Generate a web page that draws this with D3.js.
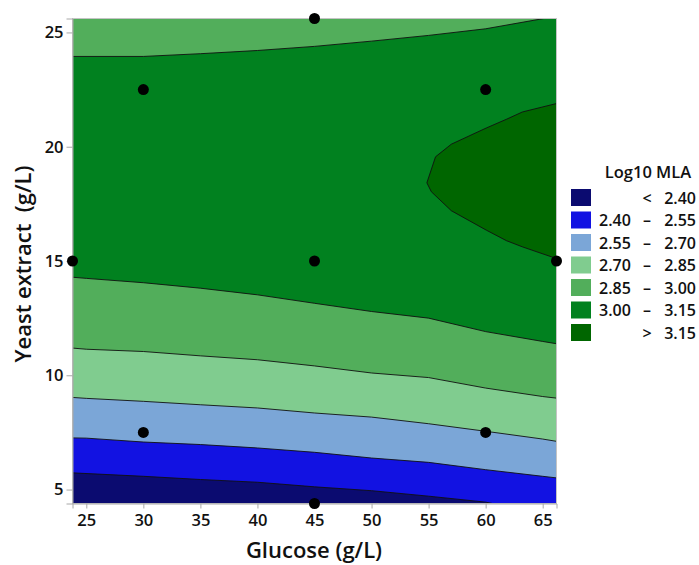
<!DOCTYPE html>
<html>
<head>
<meta charset="utf-8">
<script src="https://cdn.jsdelivr.net/npm/d3@7"></script>
<style>
  html, body { margin: 0; padding: 0; background: #ffffff; }
  svg text { font-family: "Open Sans", "Noto Sans", sans-serif; fill: #111111; }
</style>
</head>
<body>
<svg id="chart" width="699" height="565"></svg>
<script>
// Contour plot of Log10 MLA over Glucose (g/L) and Yeast extract (g/L)

const glucoseDomain = [23.79, 66.21];
const yeastDomain = [4.39, 25.61];
const glucoseTicks = [25, 30, 35, 40, 45, 50, 55, 60, 65];
const yeastTicks = [5, 10, 15, 20, 25];

// Legend bands
const bandLabels = [
  ["", "<", "2.40"],
  ["2.40", "–", "2.55"],
  ["2.55", "–", "2.70"],
  ["2.70", "–", "2.85"],
  ["2.85", "–", "3.00"],
  ["3.00", "–", "3.15"],
  ["", ">", "3.15"]
];
const bandColors = ["#0b0b70", "#1212e2", "#7ba6d7", "#80cc8f", "#52ae5b", "#01811f", "#006600"];

// Contour lines as [glucose, yeast extract] pairs
const line240 = [[23.79, 5.73], [30, 5.58], [35, 5.44], [40, 5.32], [45, 5.12], [50, 4.95], [55, 4.71], [60, 4.45], [60.6, 4.39]];
const line255 = [[23.79, 7.26], [25, 7.25], [30, 7.08], [35, 6.97], [40, 6.82], [45, 6.63], [50, 6.38], [55, 6.19], [60, 5.87], [65, 5.58], [66.21, 5.51]];
const line270 = [[23.79, 9.03], [25, 8.99], [30, 8.86], [35, 8.71], [40, 8.57], [45, 8.35], [50, 8.17], [55, 7.88], [60, 7.55], [65, 7.21], [66.21, 7.11]];
const line285 = [[23.79, 11.19], [25, 11.14], [30, 11.04], [35, 10.85], [40, 10.68], [45, 10.41], [50, 10.10], [55, 9.90], [60, 9.44], [65, 9.07], [66.21, 9.00]];
const line300low = [[23.79, 14.29], [25, 14.24], [30, 14.05], [35, 13.81], [40, 13.52], [45, 13.15], [50, 12.79], [55, 12.50], [60, 11.91], [65, 11.48], [66.21, 11.38]];
const line300high = [[23.79, 23.95], [30, 23.95], [35, 24.07], [40, 24.21], [45, 24.39], [50, 24.62], [55, 24.87], [60, 25.16], [65.1, 25.61], [66.21, 25.61]];
const line315 = [[66.21, 21.89], [63.22, 21.52], [61.82, 21.20], [60.06, 20.82], [56.99, 20.11], [55.61, 19.56], [54.85, 18.42], [55.24, 18.03], [56.99, 17.20], [60.06, 16.35], [61.82, 15.89], [63.22, 15.62], [65.90, 15.16], [66.21, 15.10]];

// Design points
const glucosePts = [30, 45, 60, 23.79, 45, 66.21, 30, 60, 45];
const yeastPts = [22.5, 25.61, 22.5, 15, 15, 15, 7.5, 7.5, 4.39];

const svg = d3.select("#chart");
const plotLeft = 72.5, plotRight = 556.5, plotTop = 18.5, plotBottom = 503.5;

const x = d3.scaleLinear().domain(glucoseDomain).range([plotLeft, plotRight]);
const y = d3.scaleLinear().domain(yeastDomain).range([plotBottom, plotTop]);

svg.append("defs").append("clipPath").attr("id", "plotClip")
  .append("rect").attr("x", plotLeft).attr("y", plotTop)
  .attr("width", plotRight - plotLeft).attr("height", plotBottom - plotTop);

const plot = svg.append("g").attr("clip-path", "url(#plotClip)");

// base band 3.00 – 3.15
plot.append("rect").attr("x", plotLeft).attr("y", plotTop)
  .attr("width", plotRight - plotLeft).attr("height", plotBottom - plotTop)
  .attr("fill", bandColors[5]);

const areaBelow = d3.area().x(d => x(d[0])).y0(y(yeastDomain[0])).y1(d => y(d[1]));
const areaAbove = d3.area().x(d => x(d[0])).y0(y(yeastDomain[1])).y1(d => y(d[1]));
const path = d3.line().x(d => x(d[0])).y(d => y(d[1]));

// top band 2.85 – 3.00
plot.append("path").datum(line300high).attr("d", areaAbove).attr("fill", bandColors[4]);

// stacked bands from the bottom up
const lowerBands = [
  [line300low, bandColors[4]],
  [line285, bandColors[3]],
  [line270, bandColors[2]],
  [line255, bandColors[1]],
  [line240, bandColors[0]]
];
lowerBands.forEach(([pts, c]) => {
  plot.append("path").datum(pts).attr("d", areaBelow).attr("fill", c);
});

// high region > 3.15
plot.append("path").datum(line315).attr("d", d => path(d) + "Z").attr("fill", bandColors[6]);

// contour strokes
[line240, line255, line270, line285, line300low, line300high.slice(0, 9), line315].forEach(pts => {
  plot.append("path").datum(pts).attr("d", path)
    .attr("fill", "none").attr("stroke", "#111").attr("stroke-width", 0.9);
});

// frame
svg.append("rect").attr("x", plotLeft).attr("y", plotTop)
  .attr("width", plotRight - plotLeft).attr("height", plotBottom - plotTop)
  .attr("fill", "none").attr("stroke", "#c4c4c4").attr("stroke-width", 1);

// axes
const xAxis = svg.append("g").attr("transform", `translate(0,${plotBottom})`)
  .call(d3.axisBottom(x).tickValues(glucoseTicks).tickSize(5).tickPadding(6).tickFormat(d3.format("d")));
const yAxis = svg.append("g").attr("transform", `translate(${plotLeft},0)`)
  .call(d3.axisLeft(y).tickValues(yeastTicks).tickSize(6).tickPadding(3).tickFormat(d3.format("d")));
[xAxis, yAxis].forEach(g => {
  g.select(".domain").attr("stroke", "#a8a8a8");
  g.selectAll(".tick line").attr("stroke", "#a8a8a8");
  g.selectAll(".tick text").attr("font-size", 16.5).attr("font-weight", 600)
    .attr("font-family", "Open Sans, sans-serif").attr("fill", "#111");
});

// axis titles
svg.append("text").attr("x", 314).attr("y", 558)
  .attr("text-anchor", "middle").attr("font-size", 22).attr("font-weight", 600)
  .text("Glucose (g/L)");
svg.append("text").attr("transform", `translate(31,264) rotate(-90)`)
  .attr("text-anchor", "middle").attr("font-size", 22).attr("font-weight", 600)
  .attr("xml:space", "preserve").style("white-space", "pre")
  .text("Yeast extract  (g/L)");

// design points
svg.append("g").selectAll("circle").data(glucosePts).join("circle")
  .attr("cx", d => x(d)).attr("cy", (d, i) => y(yeastPts[i]))
  .attr("r", 5.5).attr("fill", "#000");

// legend
const legend = svg.append("g");
legend.append("text").attr("x", 648).attr("y", 178).attr("text-anchor", "middle")
  .attr("font-size", 16.5).attr("font-weight", 600).text("Log10 MLA");
const rowY = i => 189 + i * 22.5;
bandLabels.forEach((lab, i) => {
  legend.append("rect").attr("x", 571).attr("y", rowY(i)).attr("width", 20).attr("height", 17)
    .attr("fill", bandColors[i]);
  const base = rowY(i) + 14.5;
  const t = (xp, anchor, s) => legend.append("text").attr("x", xp).attr("y", base)
    .attr("text-anchor", anchor).attr("font-size", 16).attr("font-weight", 600).text(s);
  if (lab[0]) t(599, "start", lab[0]);
  t(647, "middle", lab[1]);
  t(696, "end", lab[2]);
});
</script>
</body>
</html>
